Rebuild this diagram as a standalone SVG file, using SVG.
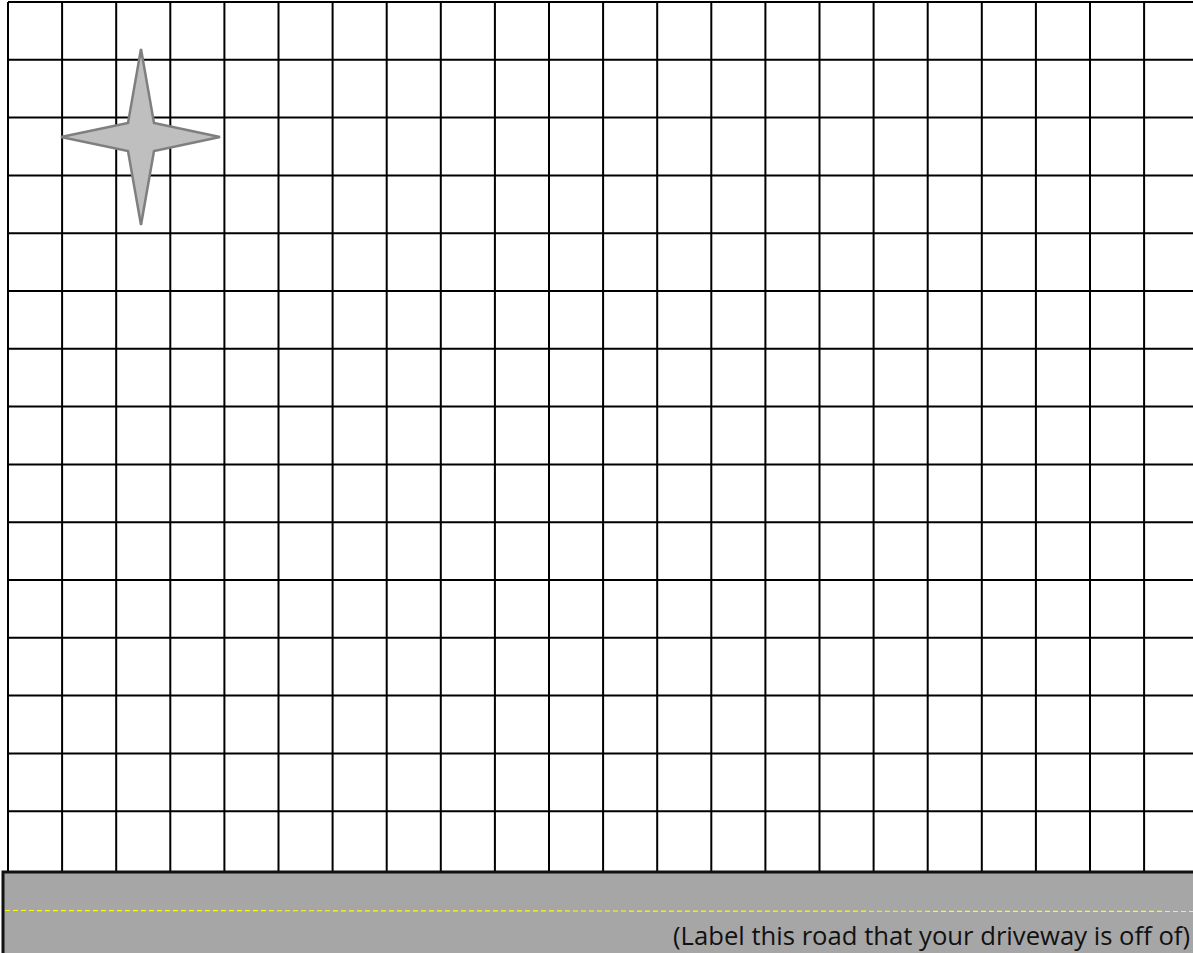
<svg xmlns="http://www.w3.org/2000/svg" width="1193" height="953" viewBox="0 0 1193 953">
<style>
.g{stroke:#000;stroke-width:2;fill:none}
.star{fill:#BFBFBF;stroke:#7F7F7F;stroke-width:2.5}
.road{fill:#A6A6A6}
.dash{stroke:#FFFF00;stroke-width:1.2;stroke-dasharray:5 3}
.lbl{font-family:"Open Sans","Liberation Sans",sans-serif;font-size:25px;fill:#111}
</style>
<rect x="0" y="0" width="1193" height="953" fill="#fff"/>
<g id="grid" class="g">
<path d="M8 2V872M62.1 2V872M116.2 2V872M170.3 2V872M224.4 2V872M278.5 2V872M332.6 2V872M386.7 2V872M440.8 2V872M494.9 2V872M549 2V872M603.1 2V872M657.2 2V872M711.3 2V872M765.4 2V872M819.5 2V872M873.6 2V872M927.7 2V872M981.8 2V872M1035.9 2V872M1090 2V872M1144.1 2V872"/>
<path d="M8 2H1193M8 59.8H1193M8 117.6H1193M8 175.4H1193M8 233.2H1193M8 291H1193M8 348.8H1193M8 406.6H1193M8 464.4H1193M8 522.2H1193M8 580H1193M8 637.8H1193M8 695.6H1193M8 753.4H1193M8 811.2H1193"/>
</g>
<g id="star">
<polygon class="star" points="141,49 154,123 220,137 154,151 141,225 128,151 61,137 128,123"/>
</g>
<g id="road">
<rect class="road" x="3" y="872" width="1192" height="83"/>
<path d="M3 955V872H1193" stroke="#111" stroke-width="3" fill="none"/>
<line class="dash" x1="5" y1="910.5" x2="1193" y2="911.5"/>
<text class="lbl" x="1190" y="945" text-anchor="end" textLength="517" lengthAdjust="spacingAndGlyphs">(Label this road that your driveway is off of)</text>
</g>
</svg>
